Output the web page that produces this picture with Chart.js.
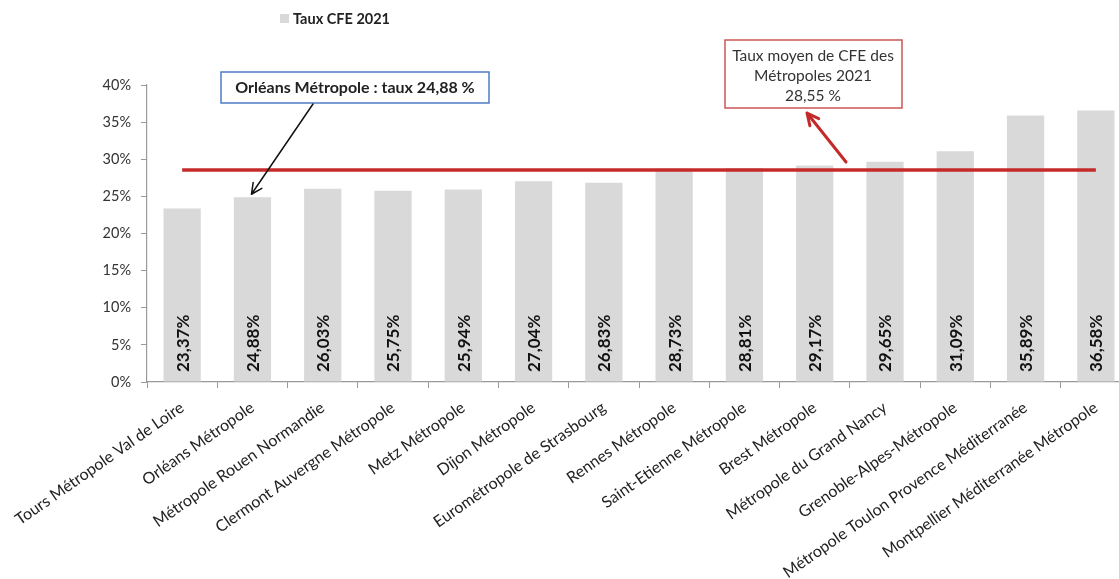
<!DOCTYPE html>
<html>
<head>
<meta charset="utf-8">
<script src="https://cdn.jsdelivr.net/npm/chart.js@4/dist/chart.umd.min.js"></script>
<style>
  html, body { margin: 0; padding: 0; background: #fff; overflow: hidden; width: 1119px; height: 579px; }
  canvas { display: block; }
</style>
</head>
<body>
<canvas id="c" width="1131" height="579"></canvas>
<script>
const categories = [
  "Tours Métropole Val de Loire",
  "Orléans Métropole",
  "Métropole Rouen Normandie",
  "Clermont Auvergne Métropole",
  "Metz Métropole",
  "Dijon Métropole",
  "Eurométropole de Strasbourg",
  "Rennes Métropole",
  "Saint-Etienne Métropole",
  "Brest Métropole",
  "Métropole du Grand Nancy",
  "Grenoble-Alpes-Métropole",
  "Métropole Toulon Provence Méditerranée",
  "Montpellier Méditerranée Métropole"
];
const tauxCFE2021 = [23.37, 24.88, 26.03, 25.75, 25.94, 27.04, 26.83, 28.73, 28.81, 29.17, 29.65, 31.09, 35.89, 36.58];
const moyenneMetropoles = [28.55, 28.55, 28.55, 28.55, 28.55, 28.55, 28.55, 28.55, 28.55, 28.55, 28.55, 28.55, 28.55, 28.55];
const yTicks = [0, 5, 10, 15, 20, 25, 30, 35, 40];
const seriesName = "Taux CFE 2021";
const orleansIndex = 1;

const FONT = "Lato, 'Open Sans', sans-serif";

function fmt(v) { return v.toFixed(2).replace('.', ',') + '%'; }

function arrow(ctx, x1, y1, x2, y2, color, width, head) {
  const a = Math.atan2(y2 - y1, x2 - x1);
  ctx.save();
  ctx.strokeStyle = color;
  ctx.lineWidth = width;
  ctx.lineCap = 'round';
  ctx.lineJoin = 'round';
  ctx.beginPath();
  ctx.moveTo(x1, y1);
  ctx.lineTo(x2, y2);
  ctx.moveTo(x2 - head * Math.cos(a - 0.45), y2 - head * Math.sin(a - 0.45));
  ctx.lineTo(x2, y2);
  ctx.lineTo(x2 - head * Math.cos(a + 0.45), y2 - head * Math.sin(a + 0.45));
  ctx.stroke();
  ctx.restore();
}

const overlay = {
  id: 'overlay',
  afterDatasetsDraw(chart) {
    const ctx = chart.ctx;
    const meta = chart.getDatasetMeta(0);
    const ys = chart.scales.y;
    ctx.save();
    ctx.fillStyle = '#111';
    ctx.font = `bold 17px ${FONT}`;
    ctx.textAlign = 'left';
    ctx.textBaseline = 'middle';
    meta.data.forEach((bar, i) => {
      ctx.save();
      ctx.translate(bar.x, ys.getPixelForValue(0) - 10);
      ctx.rotate(-Math.PI / 2);
      ctx.fillText(fmt(tauxCFE2021[i]), 0, 1);
      ctx.restore();
    });
    ctx.restore();
  },
  afterDraw(chart) {
    const ctx = chart.ctx;
    const xs = chart.scales.x, ys = chart.scales.y;
    ctx.save();
    // legend
    ctx.fillStyle = '#d9d9d9';
    ctx.fillRect(280, 14, 9, 9);
    ctx.fillStyle = '#222';
    ctx.font = `bold 14.5px ${FONT}`;
    ctx.textAlign = 'left';
    ctx.textBaseline = 'middle';
    ctx.fillText(seriesName, 293, 19);

    // Orléans box
    ctx.fillStyle = '#fff';
    ctx.fillRect(221, 72, 268, 31);
    ctx.strokeStyle = '#4f7cc4';
    ctx.lineWidth = 1.5;
    ctx.strokeRect(221, 72, 268, 31);
    ctx.fillStyle = '#222';
    ctx.font = `bold 16px ${FONT}`;
    ctx.textAlign = 'center';
    ctx.fillText("Orléans Métropole : taux " + tauxCFE2021[orleansIndex].toFixed(2).replace('.', ',') + " %", 355, 88);

    // black arrow to Orléans bar
    const bx = xs.getPixelForValue(orleansIndex) - 1;
    const by = ys.getPixelForValue(tauxCFE2021[orleansIndex]) - 3;
    arrow(ctx, 313, 104, bx, by, '#111', 1.5, 12);

    // average box
    ctx.fillStyle = '#fff';
    ctx.fillRect(725, 40, 177, 68);
    ctx.strokeStyle = '#cc5555';
    ctx.lineWidth = 1.5;
    ctx.strokeRect(725, 40, 177, 68);
    ctx.fillStyle = '#333';
    ctx.font = `15.5px ${FONT}`;
    ctx.fillText("Taux moyen de CFE des", 813, 56);
    ctx.fillText("Métropoles 2021", 813, 76);
    ctx.fillText(moyenneMetropoles[0].toFixed(2).replace('.', ',') + " %", 813, 96);

    // red arrow
    const ay = ys.getPixelForValue(moyenneMetropoles[0]) - 8;
    arrow(ctx, 846, ay, 807, 113, '#c42a2a', 3, 13);
    ctx.restore();
  }
};

new Chart(document.getElementById('c'), {
  data: {
    labels: categories,
    datasets: [
      {
        type: 'bar',
        label: seriesName,
        data: tauxCFE2021,
        backgroundColor: '#d9d9d9',
        borderWidth: 0,
        barPercentage: 0.53,
        categoryPercentage: 1.0,
        order: 2
      },
      {
        type: 'line',
        label: 'Moyenne',
        data: moyenneMetropoles,
        borderColor: '#c42a2a',
        borderWidth: 3.5,
        pointRadius: 0,
        fill: false,
        order: 1
      }
    ]
  },
  options: {
    responsive: false,
    animation: false,
    layout: { padding: { top: 85, left: 0, right: 0, bottom: 0 } },
    plugins: { legend: { display: false }, tooltip: { enabled: false } },
    scales: {
      x: {
        offset: true,
        grid: { display: true, offset: true, drawOnChartArea: false, drawTicks: true, tickLength: 6, color: '#999', lineWidth: 1 },
        border: { display: true, color: '#999', width: 1.2 },
        ticks: {
          autoSkip: false,
          minRotation: 35,
          maxRotation: 35,
          padding: 10,
          color: '#222',
          font: { family: FONT, size: 16 }
        },
        afterFit(scale) { scale.height = 197; }
      },
      y: {
        min: 0,
        max: 40,
        afterBuildTicks(scale) { scale.ticks = yTicks.map(v => ({ value: v })); },
        grid: { display: true, drawOnChartArea: false, drawTicks: true, tickLength: 6, color: '#999' },
        border: { display: true, color: '#999', width: 1.2 },
        ticks: {
          padding: 10,
          color: '#333',
          font: { family: FONT, size: 14.5 },
          callback: v => v + '%'
        },
        afterFit(scale) { scale.width = 147; }
      }
    }
  },
  plugins: [overlay]
});
</script>
</body>
</html>
